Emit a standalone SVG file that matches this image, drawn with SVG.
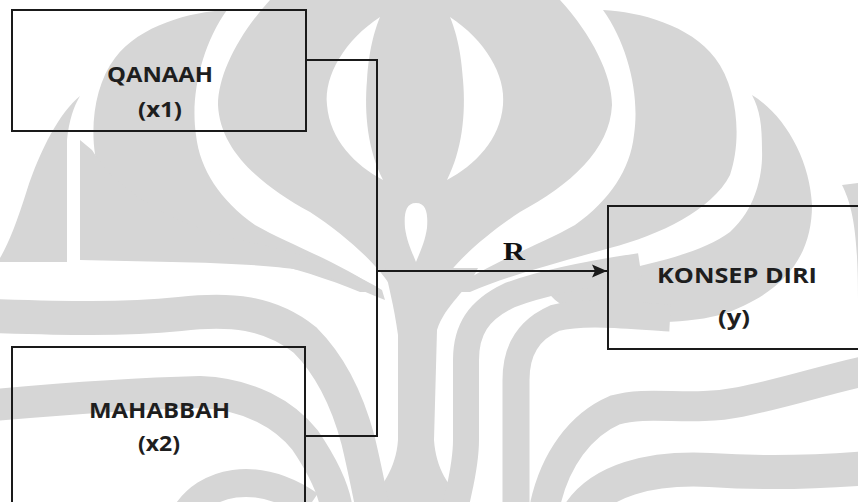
<svg xmlns="http://www.w3.org/2000/svg" xmlns:xlink="http://www.w3.org/1999/xlink" width="858" height="502" viewBox="0 0 858 502">
  <defs>
    <style>
      .wm { fill: #d6d6d6; }
      .wmw { fill: #ffffff; }
      .wms { fill: none; stroke: #d6d6d6; stroke-linecap: butt; }
      .box { fill: none; stroke: #1a1a1a; stroke-width: 2; }
      .conn { fill: none; stroke: #1a1a1a; stroke-width: 2; }
      .lbl { font-family: "Open Sans", "Liberation Sans", sans-serif; font-weight: 700; font-size: 22px; fill: #1e1e1e; text-anchor: middle; }
      .r { font-family: "Liberation Serif", serif; font-weight: 700; font-size: 25px; fill: #111; text-anchor: middle; }
    </style>
    <marker id="arrow" markerWidth="16" markerHeight="14" refX="15" refY="7" orient="auto" markerUnits="userSpaceOnUse">
      <path d="M0,0.5 L15,7 L0,13.5 L3,7 Z" fill="#1a1a1a"/>
    </marker>
    <g id="wmUpper">
      <path class="wm" d="M415,0 L560,0 C592,35 612,75 612,105 C610,150 570,185 520,212 C485,235 455,262 440,285 L415,300 Z"/>
      <path class="wm" d="M603,10 C640,12 690,25 715,58 C738,88 742,140 730,175 C712,210 660,235 610,248 C560,262 510,275 470,292 L448,292 C490,262 540,245 575,225 C610,200 630,170 634,135 C640,95 628,45 603,10 Z"/>
      <path class="wmw" d="M450,17 C485,40 506,75 503,105 C500,140 475,165 447,180 C462,150 466,115 463,80 C461,50 456,32 450,17 Z"/>
    </g>
  </defs>

  <rect width="858" height="502" fill="#ffffff"/>

  <g id="watermark">
    <use xlink:href="#wmUpper"/>
    <use xlink:href="#wmUpper" transform="matrix(-1 0 0 1 830 0)"/>
    <path class="wmw" d="M416,203 C427,203 428,215 427,228 C425,242 420,252 416,262 C412,252 407,242 405,228 C404,215 405,203 416,203 Z"/>
    <!-- trunk -->
    <path class="wm" d="M385,268 L478,268 C468,290 445,305 437,330 L434,440 C436,468 448,488 467,502 L367,502 C382,488 396,468 398,440 L398,335 C394,305 388,285 385,268 Z"/>
    <!-- right outer lobe E and its lower bands -->
    <path class="wm" d="M752,95 C785,115 810,160 812,205 C812,260 780,295 720,315 C680,325 640,322 610,320 C580,318 555,305 545,288 C600,272 690,262 730,232 C757,208 763,172 762,150 C762,125 760,110 752,95 Z"/>
    <path class="wms" stroke-width="26" d="M640,266 C600,272 545,282 510,295 C478,310 466,330 466,360 L466,440 C466,465 460,485 456,505"/>
    <path class="wms" stroke-width="27" d="M670,318 C630,316 585,310 555,318 C528,330 516,350 516,380 L516,505"/>
    <path class="wms" stroke-width="30" d="M545,505 C555,460 580,425 615,410 C650,400 690,412 740,402 C790,392 830,378 870,370"/>
    <path class="wms" stroke-width="34" d="M578,515 C600,480 650,467 710,470 C770,474 820,472 870,468"/>
    <path class="wm" d="M842,185 C852,205 858,230 858,300 L880,300 L880,180 Z"/>
    <!-- left outer lobe E and lower bands -->
    <path class="wm" d="M80,96 C60,112 40,150 27,190 C17,222 8,245 0,258 L0,262 L67,262 L67,140 C69,120 74,106 80,96 Z"/>
    <path class="wm" d="M80,140 L80,260 C160,262 250,262 300,270 C335,278 360,290 385,300 L382,290 C350,270 300,252 240,240 C180,226 120,196 92,150 Z"/>
    <path class="wms" stroke-width="34" d="M-5,316 C60,318 120,320 180,314 C230,308 270,312 305,340 C335,370 350,410 358,440 C364,465 368,485 372,505"/>
    <path class="wms" stroke-width="32" d="M-5,405 C50,400 120,394 200,392 C250,394 285,415 305,440 C322,465 332,485 336,505"/>
    <path class="wms" stroke-width="28" d="M185,515 C205,482 255,468 310,505"/>
  </g>

  <g id="connectors">
    <polyline class="conn" points="306,60 377,60 377,436 305,436"/>
    <line class="conn" x1="377" y1="271" x2="607" y2="271" marker-end="url(#arrow)"/>
    <text class="r" x="514" y="260" textLength="22" lengthAdjust="spacingAndGlyphs">R</text>
  </g>

  <g id="node-qanaah">
    <rect class="box" x="12" y="10" width="294" height="121"/>
    <text class="lbl" x="160" y="82" textLength="106" lengthAdjust="spacingAndGlyphs">QANAAH</text>
    <text class="lbl" x="160" y="117" textLength="44" lengthAdjust="spacingAndGlyphs">(x1)</text>
  </g>

  <g id="node-mahabbah">
    <rect class="box" x="12" y="347" width="293" height="170"/>
    <text class="lbl" x="159.5" y="418" textLength="141" lengthAdjust="spacingAndGlyphs">MAHABBAH</text>
    <text class="lbl" x="159" y="451" textLength="42" lengthAdjust="spacingAndGlyphs">(x2)</text>
  </g>

  <g id="node-konsep">
    <rect class="box" x="608" y="206" width="270" height="143"/>
    <text class="lbl" x="737" y="283" textLength="160" lengthAdjust="spacingAndGlyphs">KONSEP DIRI</text>
    <text class="lbl" x="734" y="325" textLength="32" lengthAdjust="spacingAndGlyphs">(y)</text>
  </g>
</svg>
